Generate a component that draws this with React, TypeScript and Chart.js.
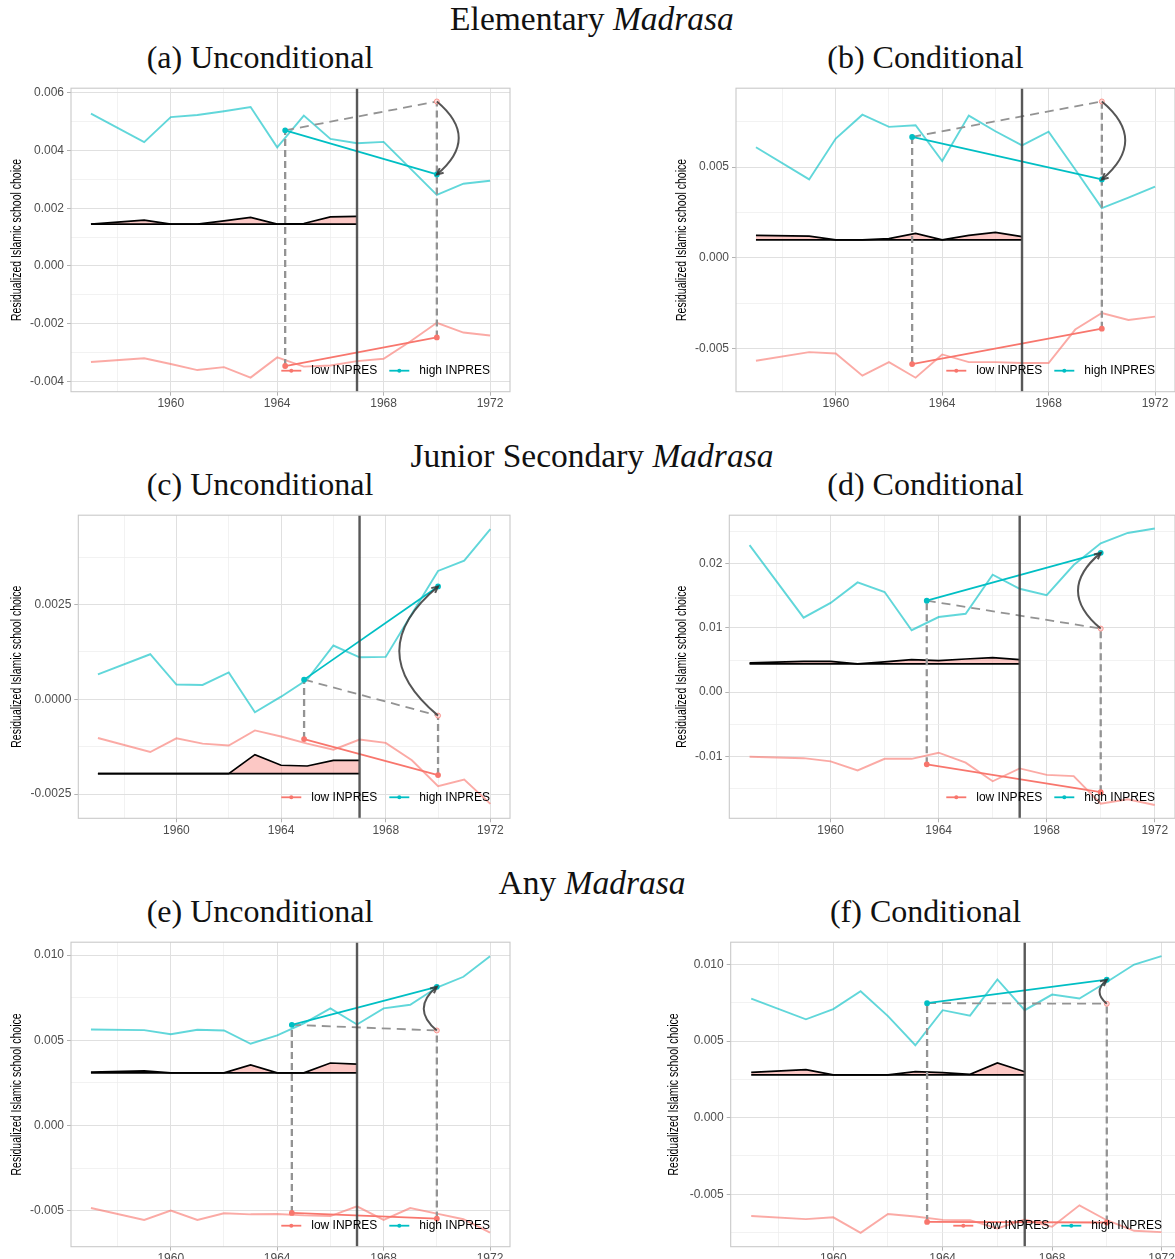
import React, { useEffect, useRef } from 'react';
import { Chart, registerables } from 'chart.js';

Chart.register(...registerables);

// ---------- shared data ----------
const YEARS = [1957, 1959, 1960, 1961, 1962, 1963, 1964, 1965, 1966, 1967, 1968, 1969, 1970, 1971, 1972];
const RIBBON_YEARS = [1957, 1959, 1960, 1961, 1962, 1963, 1964, 1965, 1966, 1967];
const X_TICKS = [1958, 1960, 1962, 1964, 1966, 1968, 1970, 1972];
const X_LABELS = ['', '1960', '', '1964', '', '1968', '', '1972'];
const X_RANGE = [1956.25, 1972.75];
const TREATMENT_YEAR = 1967;
const LEGEND_LABELS = ['low INPRES', 'high INPRES'];
const Y_TITLE = 'Residualized Islamic school choice';
const GROUP_TITLES = ['Elementary', 'Junior Secondary', 'Any'];
const GROUP_ITALIC = 'Madrasa';
const PANEL_TITLES = ['(a) Unconditional', '(b) Conditional', '(c) Unconditional', '(d) Conditional', '(e) Unconditional', '(f) Conditional'];

// ---------- (a) Elementary, unconditional ----------
const aHigh = [0.00528, 0.00429, 0.00516, 0.00523, 0.00536, 0.00551, 0.00411, 0.00521, 0.00440, 0.00425, 0.00430, 0.00338, 0.00246, 0.00285, 0.00295];
const aLow = [-0.00333, -0.00320, -0.00340, -0.00361, -0.00351, -0.00387, -0.00317, -0.00349, -0.00345, -0.00330, -0.00322, -0.00262, -0.00197, -0.00231, -0.00241];
const aRibbon = [0.00145, 0.00159, 0.00145, 0.00145, 0.00156, 0.00168, 0.00145, 0.00147, 0.00170, 0.00172];
const aBase = 0.00145;
const aFitX = [1964.3, 1970];
const aFitHigh = [0.00470, 0.00317];
const aFitLow = [-0.00347, -0.00248];
const aCounter = [0.00470, 0.00570];
const aYTicks = [-0.004, -0.002, 0, 0.002, 0.004, 0.006];
const aYLabels = ['-0.004', '-0.002', '0.000', '0.002', '0.004', '0.006'];
const aYMinor = [-0.003, -0.001, 0.001, 0.003, 0.005];
const aYRange = [-0.00436, 0.00616];

// ---------- (b) Elementary, conditional ----------
const bHigh = [0.00609, 0.00432, 0.00657, 0.00788, 0.00721, 0.00730, 0.00533, 0.00783, 0.00697, 0.00619, 0.00695, 0.00487, 0.00274, 0.00332, 0.00392];
const bLow = [-0.00566, -0.00518, -0.00526, -0.00648, -0.00573, -0.00659, -0.00531, -0.00573, -0.00573, -0.00578, -0.00578, -0.00394, -0.00303, -0.00341, -0.00323];
const bRibbon = [0.00124, 0.00120, 0.00099, 0.00099, 0.00106, 0.00135, 0.00099, 0.00124, 0.00141, 0.00117];
const bBase = 0.00099;
const bFitX = [1962.87, 1970];
const bFitHigh = [0.00666, 0.00432];
const bFitLow = [-0.00584, -0.00389];
const bCounter = [0.00666, 0.00861];
const bYTicks = [-0.005, 0, 0.005];
const bYLabels = ['-0.005', '0.000', '0.005'];
const bYMinor = [-0.0025, 0.0025, 0.0075];
const bYRange = [-0.00736, 0.00934];

// ---------- (c) Junior secondary, unconditional ----------
const cHigh = [0.00066, 0.00119, 0.00039, 0.00038, 0.00071, -0.00034, 0.00007, 0.00052, 0.00142, 0.00111, 0.00112, 0.00226, 0.00339, 0.00366, 0.00449];
const cLow = [-0.00102, -0.00139, -0.00103, -0.00117, -0.00122, -0.00082, -0.00098, -0.00117, -0.00133, -0.00106, -0.00115, -0.00161, -0.00229, -0.00212, -0.00276];
const cRibbon = [-0.00196, -0.00196, -0.00196, -0.00196, -0.00196, -0.00146, -0.00174, -0.00176, -0.00161, -0.00161];
const cBase = -0.00196;
const cFitX = [1964.88, 1970];
const cFitHigh = [0.00052, 0.00298];
const cFitLow = [-0.00105, -0.00200];
const cCounter = [0.00052, -0.00043];
const cYTicks = [-0.0025, 0, 0.0025];
const cYLabels = ['-0.0025', '0.0000', '0.0025'];
const cYMinor = [-0.00125, 0.00125, 0.00375];
const cYRange = [-0.00314, 0.00486];

// ---------- (d) Junior secondary, conditional ----------
const dHigh = [0.0229, 0.0116, 0.0139, 0.0171, 0.0156, 0.00965, 0.0117, 0.0122, 0.0183, 0.0161, 0.0151, 0.0198, 0.0232, 0.0248, 0.0255];
const dLow = [-0.01007, -0.0103, -0.0108, -0.0122, -0.0104, -0.0104, -0.00945, -0.0110, -0.0139, -0.0119, -0.0129, -0.0131, -0.0174, -0.0167, -0.0176];
const dRibbon = [0.00454, 0.00480, 0.00480, 0.00439, 0.00470, 0.00506, 0.00490, 0.00516, 0.00537, 0.00506];
const dBase = 0.00439;
const dFitX = [1963.56, 1970];
const dFitHigh = [0.01425, 0.0217];
const dFitLow = [-0.01125, -0.0156];
const dCounter = [0.01425, 0.0099];
const dYTicks = [-0.01, 0, 0.01, 0.02];
const dYLabels = ['-0.01', '0.00', '0.01', '0.02'];
const dYMinor = [-0.015, -0.005, 0.005, 0.015, 0.025];
const dYRange = [-0.01967, 0.02757];

// ---------- (e) Any, unconditional ----------
const eHigh = [0.00564, 0.00560, 0.00536, 0.00562, 0.00558, 0.00480, 0.00529, 0.00600, 0.00688, 0.00593, 0.00688, 0.00709, 0.00810, 0.00873, 0.00993];
const eLow = [-0.00484, -0.00554, -0.00499, -0.00554, -0.00515, -0.00521, -0.00519, -0.00527, -0.00531, -0.00474, -0.00554, -0.00484, -0.00517, -0.00550, -0.00628];
const eRibbon = [0.00313, 0.00321, 0.00309, 0.00309, 0.00309, 0.00356, 0.00309, 0.00309, 0.00367, 0.00360];
const eBase = 0.00309;
const eFitX = [1964.55, 1970];
const eFitHigh = [0.00591, 0.00814];
const eFitLow = [-0.00513, -0.00546];
const eCounter = [0.00591, 0.00558];
const eYTicks = [-0.005, 0, 0.005, 0.01];
const eYLabels = ['-0.005', '0.000', '0.005', '0.010'];
const eYMinor = [-0.0025, 0.0025, 0.0075];
const eYRange = [-0.00711, 0.01076];

// ---------- (f) Any, conditional ----------
const fHigh = [0.00778, 0.00642, 0.00709, 0.00826, 0.00663, 0.00473, 0.00702, 0.00666, 0.00903, 0.00702, 0.00804, 0.00778, 0.00886, 0.01000, 0.01055];
const fLow = [-0.00642, -0.00663, -0.00651, -0.00752, -0.00629, -0.00646, -0.00668, -0.00670, -0.00724, -0.00666, -0.00713, -0.00573, -0.00670, -0.00739, -0.00748];
const fRibbon = [0.00296, 0.00313, 0.00279, 0.00279, 0.00279, 0.00300, 0.00294, 0.00283, 0.00357, 0.00300];
const fBase = 0.00279;
const fFitX = [1963.43, 1970];
const fFitHigh = [0.00748, 0.00901];
const fFitLow = [-0.00681, -0.00685];
const fCounter = [0.00748, 0.00744];
const fYTicks = [-0.005, 0, 0.005, 0.01];
const fYLabels = ['-0.005', '0.000', '0.005', '0.010'];
const fYMinor = [-0.0075, -0.0025, 0.0025, 0.0075];
const fYRange = [-0.00843, 0.01146];

// ---------- styling / layout ----------
const LOW_COLOR = '#F8766D';
const HIGH_COLOR = '#00BFC4';
const LOW_FAINT = 'rgba(248,118,109,0.62)';
const HIGH_FAINT = 'rgba(0,191,196,0.62)';
const RIBBON_FILL = 'rgba(248,118,109,0.4)';
const DASH_GRAY = '#939393';
const TICK_FONT = { family: '"Liberation Sans", Arial, sans-serif', size: 12 };
const TITLE_FONT = '"Liberation Serif", "Times New Roman", serif';
const Y_TITLE_FONT = '15px "Liberation Sans", Arial, sans-serif';
const Y_TITLE_LENGTH = 162;

type Layout = { col: number; plotL: number; plotR: number; plotT: number; plotB: number; titleCx: number };

const LAYOUTS: Layout[] = [
  { col: 0, plotL: 71, plotR: 510, plotT: 86.7, plotB: 391.7, titleCx: 16.7 },
  { col: 660, plotL: 736, plotR: 1175, plotT: 86.7, plotB: 391.7, titleCx: 21.7 },
  { col: 0, plotL: 78.3, plotR: 510, plotT: 513.3, plotB: 818.3, titleCx: 16.7 },
  { col: 660, plotL: 729.3, plotR: 1175, plotT: 513.3, plotB: 818.3, titleCx: 21.7 },
  { col: 0, plotL: 71, plotR: 510, plotT: 940, plotB: 1246.7, titleCx: 16.7 },
  { col: 660, plotL: 730.7, plotR: 1182, plotT: 940, plotB: 1246.7, titleCx: 14 },
];

type PanelData = {
  high: number[]; low: number[]; ribbon: number[]; base: number;
  fitX: number[]; fitHigh: number[]; fitLow: number[]; counter: number[];
  yTicks: number[]; yLabels: string[]; yMinor: number[]; yRange: number[];
};

const PANELS: PanelData[] = [
  { high: aHigh, low: aLow, ribbon: aRibbon, base: aBase, fitX: aFitX, fitHigh: aFitHigh, fitLow: aFitLow, counter: aCounter, yTicks: aYTicks, yLabels: aYLabels, yMinor: aYMinor, yRange: aYRange },
  { high: bHigh, low: bLow, ribbon: bRibbon, base: bBase, fitX: bFitX, fitHigh: bFitHigh, fitLow: bFitLow, counter: bCounter, yTicks: bYTicks, yLabels: bYLabels, yMinor: bYMinor, yRange: bYRange },
  { high: cHigh, low: cLow, ribbon: cRibbon, base: cBase, fitX: cFitX, fitHigh: cFitHigh, fitLow: cFitLow, counter: cCounter, yTicks: cYTicks, yLabels: cYLabels, yMinor: cYMinor, yRange: cYRange },
  { high: dHigh, low: dLow, ribbon: dRibbon, base: dBase, fitX: dFitX, fitHigh: dFitHigh, fitLow: dFitLow, counter: dCounter, yTicks: dYTicks, yLabels: dYLabels, yMinor: dYMinor, yRange: dYRange },
  { high: eHigh, low: eLow, ribbon: eRibbon, base: eBase, fitX: eFitX, fitHigh: eFitHigh, fitLow: eFitLow, counter: eCounter, yTicks: eYTicks, yLabels: eYLabels, yMinor: eYMinor, yRange: eYRange },
  { high: fHigh, low: fLow, ribbon: fRibbon, base: fBase, fitX: fFitX, fitHigh: fFitHigh, fitLow: fFitLow, counter: fCounter, yTicks: fYTicks, yLabels: fYLabels, yMinor: fYMinor, yRange: fYRange },
];

const PAD_TOP = 8;
const X_AXIS_H = 24;
const PAD_RIGHT = 10;

function geometry(L: Layout) {
  const top = Math.floor(L.plotT - PAD_TOP);
  const width = Math.ceil(L.plotR + PAD_RIGHT - L.col);
  const height = Math.ceil(L.plotB + X_AXIS_H - top);
  return {
    left: L.col,
    top,
    width,
    height,
    padTop: L.plotT - top,
    padRight: width - (L.plotR - L.col),
    padBottom: height - (L.plotB - top) - X_AXIS_H,
    yAxisW: L.plotL - L.col,
  };
}

function makeOverlay(p: PanelData, L: Layout) {
  return {
    id: 'didOverlay',
    afterDatasetsDraw(chart: any) {
      const { ctx, chartArea: ca, scales } = chart;
      const x = scales.x;
      const y = scales.y;
      ctx.save();
      // treatment year vertical line
      const tx = x.getPixelForValue(TREATMENT_YEAR);
      ctx.strokeStyle = 'rgba(70,70,70,0.9)';
      ctx.lineWidth = 2.4;
      ctx.beginPath();
      ctx.moveTo(tx, ca.top);
      ctx.lineTo(tx, ca.bottom);
      ctx.stroke();
      // curved arrow from counterfactual to observed high end
      const ax = x.getPixelForValue(p.fitX[1]);
      const y0 = y.getPixelForValue(p.counter[1]);
      const y1 = y.getPixelForValue(p.fitHigh[1]);
      const dy = y1 - y0;
      const cx = ax + dy * 0.6;
      const cy = (y0 + y1) / 2;
      ctx.strokeStyle = 'rgba(55,55,55,0.85)';
      ctx.lineWidth = 2;
      ctx.beginPath();
      ctx.moveTo(ax, y0);
      ctx.quadraticCurveTo(cx, cy, ax, y1);
      ctx.stroke();
      const ang = Math.atan2(y1 - cy, ax - cx);
      const hl = 7;
      ctx.beginPath();
      ctx.moveTo(ax - hl * Math.cos(ang - 0.45), y1 - hl * Math.sin(ang - 0.45));
      ctx.lineTo(ax, y1);
      ctx.lineTo(ax - hl * Math.cos(ang + 0.45), y1 - hl * Math.sin(ang + 0.45));
      ctx.stroke();
      ctx.restore();
    },
    afterDraw(chart: any) {
      const { ctx, chartArea: ca } = chart;
      ctx.save();
      // inset legend (bottom right)
      ctx.font = '12px "Liberation Sans", Arial, sans-serif';
      ctx.textBaseline = 'middle';
      const colors = [LOW_COLOR, HIGH_COLOR];
      const ly = ca.bottom - 21;
      let xr = ca.right - 20;
      for (let i = LEGEND_LABELS.length - 1; i >= 0; i--) {
        const w = ctx.measureText(LEGEND_LABELS[i]).width;
        const tx = xr - w;
        ctx.fillStyle = '#000';
        ctx.fillText(LEGEND_LABELS[i], tx, ly);
        const sr = tx - 10;
        const sl = sr - 20;
        ctx.strokeStyle = colors[i];
        ctx.lineWidth = 1.8;
        ctx.beginPath();
        ctx.moveTo(sl, ly);
        ctx.lineTo(sr, ly);
        ctx.stroke();
        ctx.fillStyle = colors[i];
        ctx.beginPath();
        ctx.arc((sl + sr) / 2, ly, 2, 0, Math.PI * 2);
        ctx.fill();
        xr = sl - 12;
      }
      // panel border
      ctx.strokeStyle = '#C9C9C9';
      ctx.lineWidth = 1.1;
      ctx.strokeRect(ca.left, ca.top, ca.right - ca.left, ca.bottom - ca.top);
      // y-axis title (condensed, rotated)
      ctx.font = Y_TITLE_FONT;
      const tw = ctx.measureText(Y_TITLE).width;
      ctx.translate(L.titleCx, (ca.top + ca.bottom) / 2);
      ctx.rotate(-Math.PI / 2);
      ctx.scale(Y_TITLE_LENGTH / tw, 1);
      ctx.fillStyle = '#000';
      ctx.textAlign = 'center';
      ctx.textBaseline = 'middle';
      ctx.fillText(Y_TITLE, 0, 0);
      ctx.restore();
    },
  };
}

function line(data: { x: number; y: number }[], color: string, width: number, order: number, extra: any = {}) {
  return {
    data,
    borderColor: color,
    backgroundColor: color,
    borderWidth: width,
    showLine: true,
    pointRadius: 0,
    tension: 0,
    fill: false,
    order,
    ...extra,
  };
}

function PanelChart({ idx }: { idx: number }) {
  const ref = useRef<HTMLCanvasElement>(null);
  const L = LAYOUTS[idx];
  const p = PANELS[idx];
  const g = geometry(L);

  useEffect(() => {
    const canvas = ref.current;
    if (!canvas) return;
    const yAll = [...p.yTicks, ...p.yMinor].sort((a, b) => a - b);
    const isMajorY = (v: number) => p.yTicks.indexOf(v) >= 0;
    const isMajorX = (v: number) => X_LABELS[X_TICKS.indexOf(v)] !== '';

    const datasets: any[] = [
      line(YEARS.map((x, i) => ({ x, y: p.high[i] })), HIGH_FAINT, 1.9, 20),
      line(YEARS.map((x, i) => ({ x, y: p.low[i] })), LOW_FAINT, 1.9, 20),
      line(RIBBON_YEARS.map((x, i) => ({ x, y: p.ribbon[i] })), '#000', 1.7, 15, {
        fill: { value: p.base },
        backgroundColor: RIBBON_FILL,
      }),
      line([{ x: RIBBON_YEARS[0], y: p.base }, { x: RIBBON_YEARS[RIBBON_YEARS.length - 1], y: p.base }], '#000', 1.7, 14),
      line([{ x: p.fitX[0], y: p.fitLow[0] }, { x: p.fitX[0], y: p.fitHigh[0] }], DASH_GRAY, 2.3, 10, { borderDash: [7, 4] }),
      line([{ x: p.fitX[1], y: p.fitLow[1] }, { x: p.fitX[1], y: p.counter[1] }], DASH_GRAY, 2.3, 10, { borderDash: [7, 4] }),
      line(p.fitX.map((x, i) => ({ x, y: p.counter[i] })), DASH_GRAY, 1.8, 9, {
        borderDash: [9, 6],
        pointRadius: [0, 2.5],
        pointBorderColor: 'rgba(248,118,109,0.7)',
        pointBackgroundColor: 'rgba(255,220,218,1)',
        pointBorderWidth: 1,
      }),
      line(p.fitX.map((x, i) => ({ x, y: p.fitLow[i] })), LOW_COLOR, 1.8, 2, { pointRadius: 2 }),
      line(p.fitX.map((x, i) => ({ x, y: p.fitHigh[i] })), HIGH_COLOR, 1.8, 1, { pointRadius: 2 }),
    ];

    const chart = new Chart(canvas, {
      type: 'scatter',
      data: { datasets },
      options: {
        responsive: false,
        animation: false,
        events: [],
        layout: { padding: { top: g.padTop, right: g.padRight, bottom: g.padBottom, left: 0 } },
        plugins: { legend: { display: false }, tooltip: { enabled: false } },
        scales: {
          x: {
            type: 'linear',
            min: X_RANGE[0],
            max: X_RANGE[1],
            afterBuildTicks: (s: any) => { s.ticks = X_TICKS.map((v) => ({ value: v })); },
            afterFit: (s: any) => { s.height = X_AXIS_H; },
            ticks: {
              autoSkip: false,
              maxRotation: 0,
              padding: 1,
              color: '#4D4D4D',
              font: TICK_FONT,
              callback: (_v: any, i: number) => X_LABELS[i],
            },
            grid: {
              color: (c: any) => (c.tick && isMajorX(c.tick.value) ? '#E0E0E0' : '#EDEDED'),
              lineWidth: (c: any) => (c.tick && isMajorX(c.tick.value) ? 1 : 0.7),
              tickLength: 4,
              tickColor: (c: any) => (c.tick && isMajorX(c.tick.value) ? '#B3B3B3' : 'rgba(0,0,0,0)'),
            },
            border: { display: false },
          },
          y: {
            type: 'linear',
            min: p.yRange[0],
            max: p.yRange[1],
            afterBuildTicks: (s: any) => { s.ticks = yAll.map((v) => ({ value: v })); },
            afterFit: (s: any) => { s.width = g.yAxisW; },
            ticks: {
              autoSkip: false,
              padding: 3,
              color: '#4D4D4D',
              font: TICK_FONT,
              callback: (v: any) => {
                const k = p.yTicks.indexOf(v);
                return k >= 0 ? p.yLabels[k] : '';
              },
            },
            grid: {
              color: (c: any) => (c.tick && isMajorY(c.tick.value) ? '#E0E0E0' : '#EDEDED'),
              lineWidth: (c: any) => (c.tick && isMajorY(c.tick.value) ? 1 : 0.7),
              tickLength: 4,
              tickColor: (c: any) => (c.tick && isMajorY(c.tick.value) ? '#B3B3B3' : 'rgba(0,0,0,0)'),
            },
            border: { display: false },
          },
        },
      },
      plugins: [makeOverlay(p, L)],
    } as any);
    return () => chart.destroy();
  }, [idx]);

  return (
    <canvas
      ref={ref}
      width={g.width}
      height={g.height}
      style={{ position: 'absolute', left: g.left, top: g.top, width: g.width, height: g.height }}
    />
  );
}

const GROUP_SIZE = 33.5;
const PANEL_SIZE = 32;
const GROUP_BASELINES = [30, 467.5, 894];
const PANEL_BASELINES = [67.3, 494.5, 921.5];
const GROUP_CENTER = 592;
const PANEL_CENTERS = [260, 925.5];

function TextAt({ text, italic, cx, baseline, size }: { text: string; italic?: string; cx: number; baseline: number; size: number }) {
  const top = baseline - size * 0.8375;
  return (
    <div
      style={{
        position: 'absolute',
        left: cx - 400,
        width: 800,
        top,
        textAlign: 'center',
        fontFamily: TITLE_FONT,
        fontSize: size,
        lineHeight: `${size}px`,
        color: '#111',
        whiteSpace: 'nowrap',
      }}
    >
      {text}
      {italic ? <i> {italic}</i> : null}
    </div>
  );
}

export default function App() {
  return (
    <div
      style={{
        position: 'absolute',
        left: 0,
        top: 0,
        width: 1175,
        height: 1259,
        overflow: 'hidden',
        background: '#fff',
      }}
    >
      {GROUP_TITLES.map((t, r) => (
        <TextAt key={'g' + r} text={t} italic={GROUP_ITALIC} cx={GROUP_CENTER} baseline={GROUP_BASELINES[r]} size={GROUP_SIZE} />
      ))}
      {PANEL_TITLES.map((t, i) => (
        <TextAt key={'p' + i} text={t} cx={PANEL_CENTERS[i % 2]} baseline={PANEL_BASELINES[Math.floor(i / 2)]} size={PANEL_SIZE} />
      ))}
      {PANELS.map((_, i) => (
        <PanelChart key={i} idx={i} />
      ))}
    </div>
  );
}
